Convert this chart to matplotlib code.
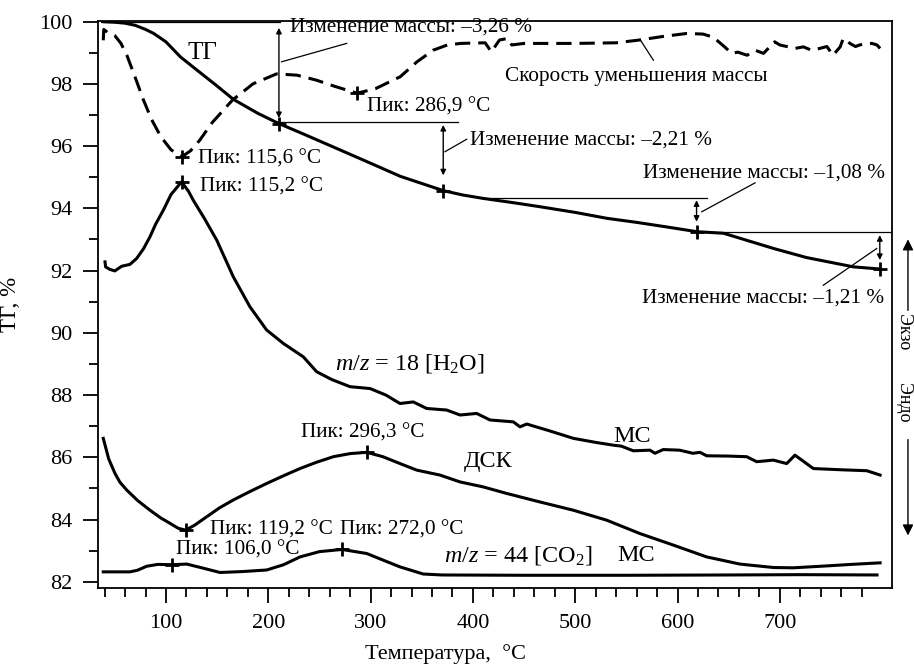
import numpy as np
import matplotlib.pyplot as plt
from matplotlib.patches import FancyArrowPatch
from matplotlib.ticker import FixedLocator

plt.rcParams['font.family'] = ['Liberation Serif', 'DejaVu Serif']
plt.rcParams['mathtext.fontset'] = 'custom'
plt.rcParams['mathtext.rm'] = 'Liberation Serif'
plt.rcParams['mathtext.it'] = 'Liberation Serif:italic'

# ТГ, %
tg_t = [38, 50, 60, 70, 80, 88, 100, 114, 130, 150, 166, 190, 210, 235, 263, 300, 329,
        350, 371, 390, 410, 440, 466, 500, 531, 560, 590, 619, 645, 661, 694, 726, 772, 798]
tg_v = [100.0, 99.98, 99.95, 99.88, 99.75, 99.62, 99.35, 98.87, 98.45, 97.93, 97.5, 97.05,
        96.73, 96.38, 95.98, 95.45, 95.03, 94.8, 94.57, 94.43, 94.32, 94.18, 94.05, 93.87,
        93.68, 93.55, 93.4, 93.25, 93.2, 93.04, 92.71, 92.42, 92.12, 92.05]

# скорость уменьшения массы (ДТГ), в масштабе оси ТГ
dtg_t = [38.7, 39.2, 43, 50, 56, 62, 70, 78, 86, 95, 105, 115.6, 124, 133, 145, 165, 185,
         208, 228, 247, 265, 286.9, 305, 329, 345, 361, 375, 388, 412, 418, 426, 434, 438,
         450, 500, 540, 563, 585, 609, 625, 635, 646, 653, 659, 668, 676, 684, 689, 692,
         695, 700, 715, 723, 731, 739, 746, 752, 759, 762, 769, 774, 778, 783, 790, 795, 798]
dtg_v = [99.4, 99.75, 99.65, 99.55, 99.3, 98.9, 98.2, 97.48, 96.85, 96.3, 95.88, 95.66,
         95.85, 96.19, 96.75, 97.48, 98.0, 98.32, 98.28, 98.12, 97.92, 97.70, 97.85, 98.23,
         98.7, 99.08, 99.25, 99.3, 99.32, 99.03, 99.41, 99.46, 99.25, 99.3, 99.3, 99.32,
         99.41, 99.52, 99.62, 99.6, 99.5, 99.19, 98.98, 99.02, 98.92, 99.08, 98.98, 99.15,
         99.3, 99.35, 99.25, 99.14, 99.19, 99.08, 99.14, 99.2, 98.92, 99.19, 99.46, 99.29,
         99.2, 99.25, 99.29, 99.3, 99.25, 99.14]

# МС, m/z = 18
h2o_t = [40.4, 41, 45, 50, 56.7, 64.8, 71.3, 78, 84.4, 90, 97.4, 105, 115.2, 122, 126.7,
         138, 149.6, 165.8, 182, 198.4, 214.7, 234.2, 247.3, 262, 279.9, 299.5, 315, 328.7,
         341.7, 354.8, 374.3, 387.4, 403.7, 416.7, 439.5, 446, 452.6, 475, 498.2, 520,
         537.3, 545, 556.8, 573, 578, 586, 602, 615, 622, 628.5, 650, 667.6, 677.4, 693.6,
         706.7, 714.8, 732.7, 760, 785, 798]
h2o_v = [92.28, 92.12, 92.04, 91.99, 92.14, 92.2, 92.39, 92.7, 93.09, 93.5, 93.94, 94.45,
         94.85, 94.55, 94.26, 93.65, 92.98, 91.8, 90.84, 90.09, 89.66, 89.23, 88.75, 88.5,
         88.27, 88.21, 88.0, 87.73, 87.78, 87.57, 87.52, 87.36, 87.41, 87.2, 87.14, 86.98,
         87.07, 86.85, 86.61, 86.48, 86.39, 86.36, 86.21, 86.23, 86.13, 86.25, 86.23, 86.13,
         86.16, 86.05, 86.04, 86.02, 85.86, 85.91, 85.8, 86.07, 85.64, 85.6, 85.57, 85.43]

# ДСК
dsc_t = [38.7, 44, 50.2, 55, 61.6, 72, 84.4, 95, 103.9, 112, 119.2, 128, 139.8, 152, 165.8,
         182, 198.4, 215, 231, 247, 263.6, 280, 296.3, 312, 328.7, 345, 367.8, 387.4, 410,
         433, 465, 498.2, 530.8, 563.3, 595.9, 628.5, 661, 693.6, 713, 740, 770, 798]
dsc_v = [86.61, 85.95, 85.48, 85.2, 84.95, 84.62, 84.3, 84.05, 83.88, 83.72, 83.66, 83.82,
         84.09, 84.37, 84.63, 84.9, 85.16, 85.41, 85.64, 85.84, 86.02, 86.12, 86.16, 86.02,
         85.8, 85.59, 85.43, 85.21, 85.05, 84.84, 84.57, 84.3, 83.98, 83.55, 83.18, 82.8,
         82.57, 82.46, 82.45, 82.5, 82.56, 82.61]

# МС, m/z = 44
co2_t = [38.7, 64.8, 72, 81.1, 92, 106, 120.2, 135, 152.8, 175, 198.4, 215, 231, 250, 272,
         296.2, 312, 328.7, 351.5, 370, 450, 550, 650, 720, 795]
co2_v = [82.32, 82.32, 82.37, 82.5, 82.56, 82.55, 82.57, 82.45, 82.3, 82.33, 82.38, 82.55,
         82.8, 82.97, 83.04, 82.91, 82.7, 82.48, 82.25, 82.22, 82.21, 82.21, 82.22, 82.23,
         82.22]

# пики
dtg_peaks = [115.6, 286.9]
h2o_peaks = [115.2]
dsc_peaks = [119.2, 296.3]
co2_peaks = [106.0, 272.0]

# ступени потери массы
mass_change = [-3.26, -2.21, -1.08, -1.21]
step_t = [210.4, 371.0, 618.6, 797.7]
step_levels = [100.0, 96.77, 94.34, 93.25]
step_lines = [(38, 211), (210, 385), (410, 629), (622, 810)]

fig = plt.figure(figsize=(9.14, 6.72), dpi=100)
ax = fig.add_axes([0.1075, 0.1254, 0.8685, 0.8438])

lw = 2.2
ax.plot(tg_t, tg_v, color='black', lw=lw)
ax.plot(dtg_t, dtg_v, color='black', lw=lw, dashes=(5, 2.6))
ax.plot(h2o_t, h2o_v, color='black', lw=lw)
ax.plot(dsc_t, dsc_v, color='black', lw=lw)
ax.plot(co2_t, co2_v, color='black', lw=lw)

for peaks, tt, vv in [(dtg_peaks, dtg_t, dtg_v), (h2o_peaks, h2o_t, h2o_v),
                      (dsc_peaks, dsc_t, dsc_v), (co2_peaks, co2_t, co2_v)]:
    ax.plot(peaks, np.interp(peaks, tt, vv), '+', color='black', ms=10, mew=2)
ax.plot(step_t, np.interp(step_t, tg_t, tg_v), '+', color='black', ms=10, mew=2)

# горизонтальные уровни
for lev, (x0, x1) in zip(step_levels, step_lines):
    ax.plot([x0, x1], [lev, lev], color='black', lw=0.9)

# стрелки ступеней
arrow_spans = [(99.8, 96.9), (96.68, 95.06), (94.26, 93.57), (93.14, 92.34)]
for t, (y0, y1) in zip(step_t, arrow_spans):
    ax.annotate('', xy=(t, y1), xytext=(t, y0),
                arrowprops=dict(arrowstyle='<|-|>', color='black', lw=1,
                                mutation_scale=8, shrinkA=0, shrinkB=0))

txt = 15.3
labels_pos = [(221, 99.82, 'left'), (397, 96.19, 'left'), (803, 95.12, 'right'),
              (802, 91.11, 'right')]
for dm, (x, y, ha) in zip(mass_change, labels_pos):
    s = 'Изменение массы: –' + f'{abs(dm):.2f}'.replace('.', ',') + ' %'
    ax.text(x, y, s, fontsize=txt, ha=ha, va='center')

leaders = [((213, 276.6), (98.71, 99.30)), ((372.7, 393.9), (95.82, 96.22)),
           ((623.7, 675.8), (93.89, 94.82)), ((742.5, 794.7), (91.53, 92.71)),
           ((563.3, 576.4), (99.43, 98.76))]
for xs, ys in leaders:
    ax.plot(xs, ys, color='black', lw=0.9)

def peak_text(t):
    return 'Пик: ' + f'{t:.1f}'.replace('.', ',') + ' °C'

ax.text(131.6, 95.6, peak_text(dtg_peaks[0]), fontsize=txt, va='center')
ax.text(296, 97.26, peak_text(dtg_peaks[1]), fontsize=txt, va='center')
ax.text(133.2, 94.69, peak_text(h2o_peaks[0]), fontsize=txt, va='center')
ax.text(143, 83.66, peak_text(dsc_peaks[0]), fontsize=txt, va='center')
ax.text(292, 86.77, peak_text(dsc_peaks[1]), fontsize=txt, va='center', ha='center')
ax.text(109.8, 83.02, peak_text(co2_peaks[0]), fontsize=txt, va='center')
ax.text(270, 83.66, peak_text(co2_peaks[1]), fontsize=txt, va='center')

ax.text(560, 98.23, 'Скорость уменьшения массы', fontsize=txt, va='center', ha='center')
ax.text(136, 99.0, 'ТГ', fontsize=18, va='center', ha='center')
ax.text(265, 89.02, r'$m/z$ = 18 [H$_2$O]', fontsize=17.4, va='center')
ax.text(556, 86.66, 'МС', fontsize=17.4, va='center', ha='center')
ax.text(415, 85.86, 'ДСК', fontsize=17.4, va='center', ha='center')
ax.text(372, 82.86, r'$m/z$ = 44 [CO$_2$]', fontsize=17.4, va='center')
ax.text(559.4, 82.86, 'МС', fontsize=17.4, va='center', ha='center')

ax.set_xlim(33.8, 809.7)
ax.set_ylim(81.81, 100.03)
ax.xaxis.set_major_locator(FixedLocator(list(range(100, 800, 100))))
ax.xaxis.set_minor_locator(FixedLocator(list(range(40, 800, 20))))
ax.yaxis.set_major_locator(FixedLocator(list(range(82, 101, 2))))
ax.yaxis.set_minor_locator(FixedLocator(list(range(83, 100, 2))))
ax.tick_params(which='both', direction='out', width=1.3, labelsize=16, pad=8)
ax.tick_params(which='major', length=10.8)
ax.tick_params(which='minor', length=6.8)
for sp in ax.spines.values():
    sp.set_linewidth(1.3)

ax.set_ylabel('ТГ, %', fontsize=16.5)
ax.yaxis.set_label_coords(-0.097, 0.5)
ax.set_xlabel('Температура,  °C', fontsize=16)
ax.xaxis.set_label_coords(0.437, -0.1)

# Экзо / Эндо
fig.patches.append(FancyArrowPatch(
    (0.9934, 0.534), (0.9934, 0.648), transform=fig.transFigure,
    arrowstyle='-|>', mutation_scale=16, color='black', lw=1))
fig.patches.append(FancyArrowPatch(
    (0.9934, 0.35), (0.9934, 0.199), transform=fig.transFigure,
    arrowstyle='-|>', mutation_scale=16, color='black', lw=1))
fig.text(0.988, 0.506, 'Экзо', rotation=270, fontsize=13, ha='center', va='center')
fig.text(0.988, 0.40, 'Эндо', rotation=270, fontsize=13, ha='center', va='center')

fig.savefig('out.png', dpi=100)
